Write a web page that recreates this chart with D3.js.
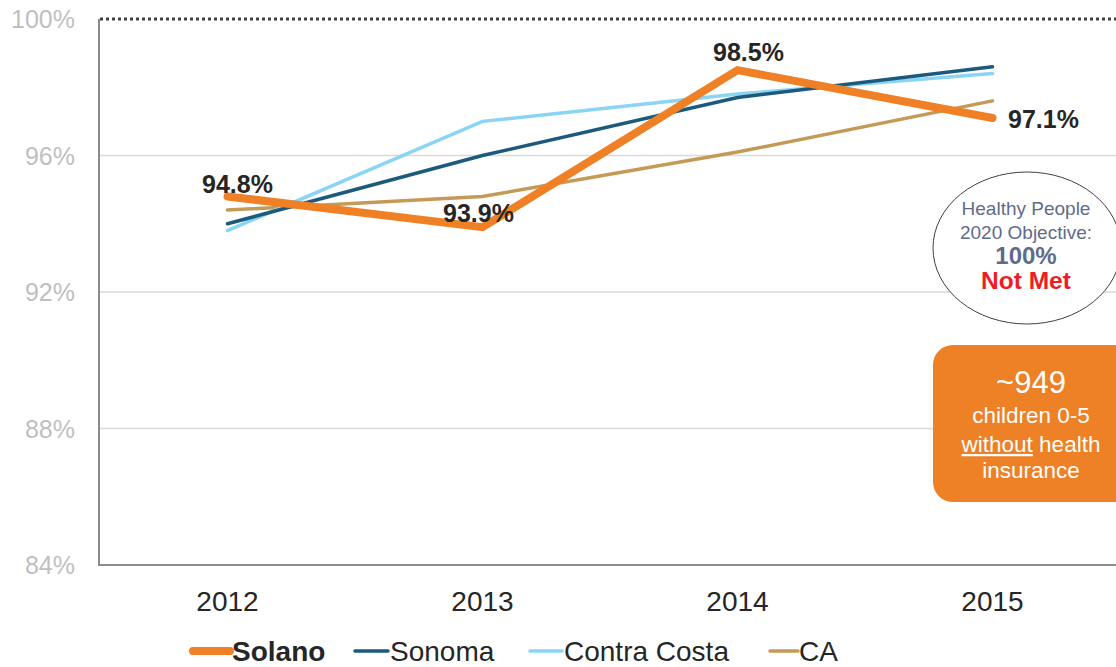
<!DOCTYPE html>
<html><head><meta charset="utf-8">
<script src="https://cdn.jsdelivr.net/npm/d3@7"></script>
<style>body{margin:0;background:#fff;}svg{display:block;font-family:"Liberation Sans",Arial,sans-serif;}</style>
</head><body><svg id="c" width="1116" height="667"></svg>
<script>
const years = ["2012","2013","2014","2015"];
const solano = [94.8, 93.9, 98.5, 97.1];
const sonoma = [94.0, 96.0, 97.7, 98.6];
const contraCosta = [93.8, 97.0, 97.8, 98.4];
const ca = [94.4, 94.8, 96.1, 97.6];
const yTicks = [84, 88, 92, 96, 100];
const seriesNames = ["Solano","Sonoma","Contra Costa","CA"];
const solanoLabels = ["94.8%","93.9%","98.5%","97.1%"];

const svg = d3.select("#c");
const x = d3.scalePoint().domain(years).range([100,1120]).padding(0.5);
const y = d3.scaleLinear().domain([84,100]).range([565,19]);

// gridlines
svg.append("g").selectAll("line").data(yTicks.filter(t=>t>84 && t<100)).join("line")
  .attr("x1",99).attr("x2",1116).attr("y1",d=>y(d)).attr("y2",d=>y(d))
  .attr("stroke","#d9d9d9").attr("stroke-width",1.3);
// 100% dotted
svg.append("line").attr("x1",100).attr("x2",1116).attr("y1",y(100)).attr("y2",y(100))
  .attr("stroke","#404040").attr("stroke-width",3).attr("stroke-dasharray","3,3");
// axes lines
svg.append("line").attr("x1",99).attr("x2",99).attr("y1",y(100)).attr("y2",y(84)+1).attr("stroke","#8c8c8c").attr("stroke-width",2);
svg.append("line").attr("x1",98).attr("x2",1116).attr("y1",y(84)).attr("y2",y(84)).attr("stroke","#8c8c8c").attr("stroke-width",2);

// y tick labels
svg.append("g").selectAll("text").data(yTicks).join("text")
  .attr("x",75).attr("y",d=>y(d)+9).attr("text-anchor","end")
  .attr("font-size",25).attr("fill","#bfbfbf").text(d=>d+"%");
// x tick labels
svg.append("g").selectAll("text").data(years).join("text")
  .attr("x",d=>x(d)).attr("y",611).attr("text-anchor","middle")
  .attr("font-size",28).attr("fill","#262626").text(d=>d);

const line = d3.line().x((d,i)=>x(years[i])).y(d=>y(d));
const series = [
  {name:"CA", data:ca, color:"#c49a56", w:3.5},
  {name:"Contra Costa", data:contraCosta, color:"#8ad4f6", w:3.5},
  {name:"Sonoma", data:sonoma, color:"#1b5a7d", w:3.5},
  {name:"Solano", data:solano, color:"#ef8025", w:8}
];
svg.append("g").selectAll("path").data(series).join("path")
  .attr("d",d=>line(d.data)).attr("fill","none").attr("stroke",d=>d.color)
  .attr("stroke-width",d=>d.w).attr("stroke-linecap","round").attr("stroke-linejoin","miter");

// Solano labels
const lblOff = [[10,-3],[-4,-5],[11,-9],[51,10]];
svg.append("g").selectAll("text").data(solano).join("text")
  .attr("x",(d,i)=>x(years[i])+lblOff[i][0]).attr("y",(d,i)=>y(d)+lblOff[i][1])
  .attr("text-anchor","middle").attr("font-size",25).attr("font-weight","bold").attr("fill","#262626")
  .text((d,i)=>solanoLabels[i]);

// ellipse callout
svg.append("ellipse").attr("cx",1027).attr("cy",248).attr("rx",94).attr("ry",76)
  .attr("fill","#fff").attr("stroke","#404040").attr("stroke-width",1);
const ct = svg.append("g").attr("text-anchor","middle");
ct.append("text").attr("x",1026).attr("y",215).attr("font-size",19).attr("fill","#5f6b8a").text("Healthy People");
ct.append("text").attr("x",1026).attr("y",239).attr("font-size",19).attr("fill","#5f6b8a").text("2020 Objective:");
ct.append("text").attr("x",1026).attr("y",264).attr("font-size",24).attr("font-weight","bold").attr("fill","#5f6b8a").text("100%");
ct.append("text").attr("x",1026).attr("y",289).attr("font-size",24.5).attr("font-weight","bold").attr("fill","#ee1c25").text("Not Met");

// orange box
svg.append("rect").attr("x",933).attr("y",345).attr("width",210).attr("height",157).attr("rx",20)
  .attr("fill","#ee8026");
const bt = svg.append("g").attr("text-anchor","middle").attr("fill","#fff");
bt.append("text").attr("x",1031).attr("y",393).attr("font-size",31).text("~949");
bt.append("text").attr("x",1031).attr("y",423).attr("font-size",22.5).text("children 0-5");
const t3 = bt.append("text").attr("x",1031).attr("y",452).attr("font-size",22.5);
t3.append("tspan").attr("text-decoration","underline").text("without");
t3.append("tspan").text(" health");
bt.append("text").attr("x",1031).attr("y",478).attr("font-size",22.5).text("insurance");

// legend
const legend = [
  {name:"Solano", color:"#ef8025", w:8, x1:193, x2:230, tx:232, bold:true},
  {name:"Sonoma", color:"#1b5a7d", w:3.5, x1:355, x2:388, tx:390, bold:false},
  {name:"Contra Costa", color:"#8ad4f6", w:3.5, x1:530, x2:562, tx:564, bold:false},
  {name:"CA", color:"#c49a56", w:3.5, x1:770, x2:798, tx:799, bold:false}
];
const lg = svg.append("g");
lg.selectAll("line").data(legend).join("line")
  .attr("x1",d=>d.x1).attr("x2",d=>d.x2).attr("y1",651).attr("y2",651)
  .attr("stroke",d=>d.color).attr("stroke-width",d=>d.w).attr("stroke-linecap","round");
lg.selectAll("text").data(legend).join("text")
  .attr("x",d=>d.tx).attr("y",661).attr("font-size",28)
  .attr("font-weight",d=>d.bold?"bold":"normal").attr("fill","#262626").text(d=>d.name);
</script></body></html>
